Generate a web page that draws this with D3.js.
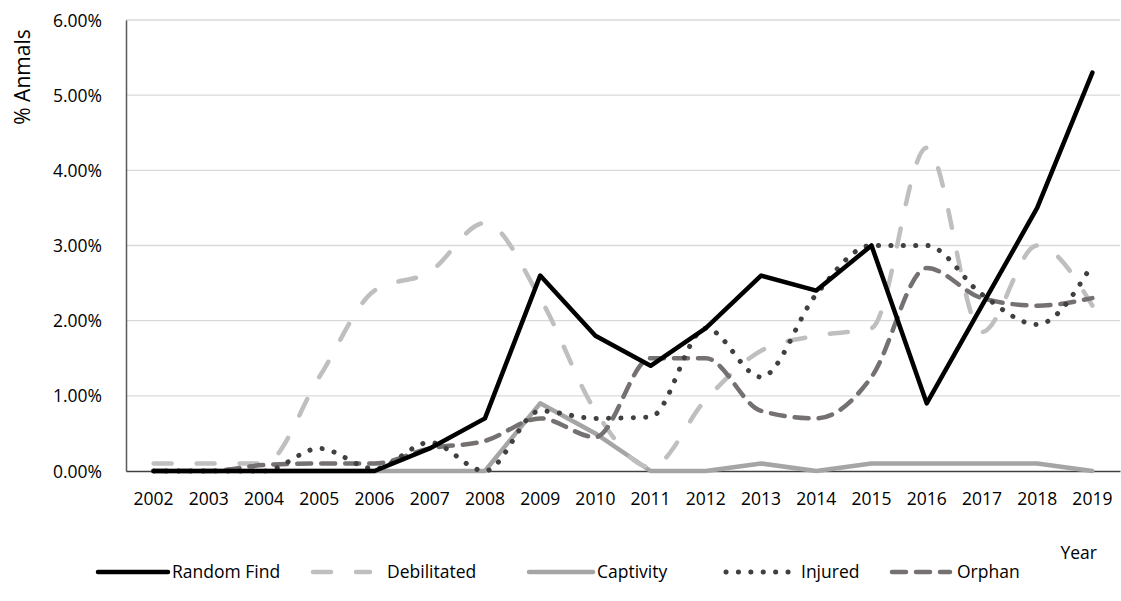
<!DOCTYPE html>
<html>
<head>
<meta charset="utf-8">
<script src="https://cdn.jsdelivr.net/npm/d3@7"></script>
<style>
  body { margin: 0; background: #fff; }
  text { font-family: "Open Sans", "Liberation Sans", sans-serif; fill: #000; }
</style>
</head>
<body>
<svg id="chart" width="1121" height="601"></svg>
<script>
const years = ["2002","2003","2004","2005","2006","2007","2008","2009","2010","2011","2012","2013","2014","2015","2016","2017","2018","2019"];
const randomFind  = [0,0,0,0,0,0.3,0.7,2.6,1.8,1.4,1.9,2.6,2.4,3.0,0.9,2.2,3.5,5.3];
const debilitated = [0.1,0.1,0.1,1.25,2.4,2.65,3.3,2.3,0.8,0.05,0.95,1.6,1.8,1.9,4.3,1.85,3.0,2.2];
const captivity   = [0,0,0,0,0,0,0,0.9,0.5,0,0,0.1,0,0.1,0.1,0.1,0.1,0];
const injured     = [0,0,0,0.3,0.03,0.38,0,0.8,0.7,0.72,1.9,1.25,2.35,3.0,3.0,2.35,1.95,2.75];
const orphan      = [0,0,0.08,0.1,0.1,0.3,0.4,0.7,0.45,1.5,1.5,0.8,0.7,1.25,2.7,2.3,2.2,2.3];
const yTicks = [0,0.01,0.02,0.03,0.04,0.05,0.06];
const seriesNames = ["Random Find","Debilitated","Captivity","Injured","Orphan"];

const series = [
  {name: seriesNames[0], values: randomFind,  color: "#000000", dash: null,      curve: d3.curveLinear,     width: 4.5},
  {name: seriesNames[1], values: debilitated, color: "#bfbfbf", dash: "18,25",   curve: d3.curveMonotoneX,  width: 4.5},
  {name: seriesNames[2], values: captivity,   color: "#a5a5a5", dash: null,      curve: d3.curveLinear,     width: 4.5},
  {name: seriesNames[3], values: injured,     color: "#404040", dash: "0.1,12.3",curve: d3.curveMonotoneX,  width: 5},
  {name: seriesNames[4], values: orphan,      color: "#767171", dash: "14,10",   curve: d3.curveMonotoneX,  width: 4.5}
];

const svg = d3.select("#chart");
const m = {left: 126, right: 1120, top: 20, bottom: 471};

const x = d3.scaleBand().domain(years).range([m.left, m.right]);
const y = d3.scaleLinear().domain([0, 0.06]).range([m.bottom, m.top]);

// gridlines
svg.append("g").selectAll("line").data(yTicks.filter(d => d > 0)).join("line")
  .attr("x1", m.left).attr("x2", m.right)
  .attr("y1", d => y(d)).attr("y2", d => y(d))
  .attr("stroke", "#d9d9d9").attr("stroke-width", 1.3);

// y axis
const yAxis = svg.append("g").attr("transform", `translate(${m.left},0)`)
  .call(d3.axisLeft(y).tickValues(yTicks).tickFormat(d3.format(".2%")).tickSize(0).tickPadding(24));
yAxis.select(".domain").attr("stroke", "#595959").attr("stroke-width", 1.5);
yAxis.selectAll("text").style("font-size", "17.5px").attr("dy", "0.35em");

// x axis
const xAxis = svg.append("g").attr("transform", `translate(0,${m.bottom})`)
  .call(d3.axisBottom(x).tickSize(0).tickPadding(22));
xAxis.select(".domain").attr("stroke", "#404040").attr("stroke-width", 1.5);
xAxis.selectAll("text").style("font-size", "17.5px");

// lines
const drawOrder = [2, 1, 4, 3, 0];
drawOrder.forEach(i => {
  const s = series[i];
  const line = d3.line()
    .x((d, j) => x(years[j]) + x.bandwidth() / 2)
    .y(d => y(d / 100))
    .curve(s.curve);
  svg.append("path").datum(s.values)
    .attr("d", line)
    .attr("fill", "none")
    .attr("stroke", s.color)
    .attr("stroke-width", s.width)
    .attr("stroke-linecap", "round")
    .attr("stroke-linejoin", "round")
    .attr("stroke-dasharray", s.dash);
});

// axis titles
svg.append("text")
  .attr("transform", "translate(30,77) rotate(-90)")
  .attr("text-anchor", "middle")
  .style("font-size", "21px")
  .text("% Anmals");
svg.append("text")
  .attr("x", 1097).attr("y", 559)
  .attr("text-anchor", "end")
  .style("font-size", "17.5px")
  .text("Year");

// legend
const legendPos = [
  {x1: 98, x2: 168, tx: 172},
  {x1: 313, x2: 370, tx: 387},
  {x1: 529, x2: 593, tx: 597},
  {x1: 726, x2: 796, tx: 801},
  {x1: 892, x2: 950, tx: 957}
];
const ly = 572;
series.forEach((s, i) => {
  const p = legendPos[i];
  const g = svg.append("g");
  g.append("line").attr("x1", p.x1).attr("x2", p.x2).attr("y1", ly).attr("y2", ly)
    .attr("stroke", s.color).attr("stroke-width", s.width)
    .attr("stroke-linecap", "round")
    .attr("stroke-dasharray", s.dash);
  g.append("text").attr("x", p.tx).attr("y", ly).attr("dy", "0.35em")
    .style("font-size", "17.5px").text(s.name);
});
</script>
</body>
</html>
